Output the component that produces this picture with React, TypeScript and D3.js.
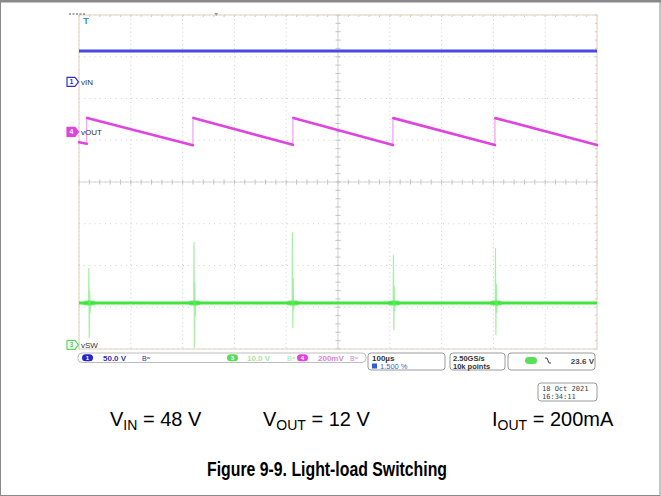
import React from "react";
import * as d3 from "d3";

// scope settings
const timeDomain = [0, 1000]; // µs, 100 µs/div
const divDomain = [-4, 4]; // vertical divisions
const hDivs = d3.range(0, 11);
const vDivs = d3.range(-4, 5);

// channel ground markers (divisions) and scale (units/div)
const groundDiv = { vin: 2.4, vout: 1.2, vsw: -3.9 };
const perDiv = { vin: 50, vout: 200, vsw: 10 };

const vinLevel = 37;

// vOUT ripple (mV relative to marker)
const voutJumps = [15, 220, 413, 606, 803];
const voutPeaks = [67, 67, 67, 66, 66];
const voutTroughs = [-57, -64, -62, -63, -63];
const voutStart = -50;
const voutEnd = -63;

// vSW (V)
const swLevel = 10;
const swSpikeTimes = [19, 222, 412, 607, 804];
const swTops = [18.4, 24.6, 26.9, 21.5, 23.2];
const swBottoms = [1.6, -0.7, 4.0, 3.5, 2.3];

const statusLabels = {
  ch1: "50.0 V",
  ch3: "10.0 V",
  ch4: "200mV",
  time: "100µs",
  delay: "1.500 %",
  rate: "2.50GS/s",
  points: "10k points",
  trig: "23.6 V",
  date: "18 Oct 2021",
  clock: "16:34:11",
};

const BLUE = "#4848e4";
const MAGENTA = "#e044e0";
const GREEN = "#3ee63e";
const GREEN_FAINT = "#a6efa6";

export default function App() {
  const x = d3.scaleLinear().domain(timeDomain).range([79, 597]);
  const y = d3.scaleLinear().domain(divDomain).range([349, 15]);
  const chY = (ch: "vin" | "vout" | "vsw", v: number) => y(groundDiv[ch] + v / perDiv[ch]);

  const line = d3.line<[number, number]>().x(d => x(d[0])).y(d => d[1]);

  // vout ramps
  const ramps: [number, number][][] = [];
  ramps.push([[0, chY("vout", voutStart)], [voutJumps[0], chY("vout", voutTroughs[0])]]);
  voutJumps.forEach((t, i) => {
    const tEnd = i + 1 < voutJumps.length ? voutJumps[i + 1] : timeDomain[1];
    const vEnd = i + 1 < voutTroughs.length ? voutTroughs[i + 1] : voutEnd;
    ramps.push([[t + 0.8, chY("vout", voutPeaks[i])], [tEnd, chY("vout", vEnd)]]);
  });

  // vsw spikes
  const swBase = chY("vsw", swLevel);
  const spikes = swSpikeTimes.map((t, i) => {
    const top = chY("vsw", swTops[i]);
    const bot = chY("vsw", swBottoms[i]);
    const pts: [number, number][] = [
      [t - 0.5, swBase],
      [t, top],
      [t + 0.8, bot],
      [t + 1.6, swBase + (top - swBase) * 0.35],
      [t + 2.4, swBase + (bot - swBase) * 0.3],
      [t + 3.2, swBase],
    ];
    return line(pts) as string;
  });

  const minorX = d3.range(0, 1000.01, 20);
  const minorY = d3.range(-4, 4.01, 0.2);

  const marker = (yy: number, fill: string, stroke: string, label: string, tc: string) => (
    <g>
      <path
        d={`M67,${yy - 4.5} L75,${yy - 4.5} L78.5,${yy} L75,${yy + 4.5} L67,${yy + 4.5} Z`}
        fill={fill}
        stroke={stroke}
        strokeWidth={1.2}
        strokeLinejoin="round"
      />
      <text x={71.5} y={yy + 2.5} fontSize={7} fontWeight="bold" fill={tc} textAnchor="middle">{label}</text>
    </g>
  );

  const badge = (x0: number, yc: number, fill: string, label: string) => (
    <g>
      <rect x={x0} y={yc - 3.5} width={11} height={7} rx={3.5} fill={fill} />
      <text x={x0 + 5.5} y={yc + 2.3} fontSize={6} fontWeight="bold" fill="#fff" textAnchor="middle">{label}</text>
    </g>
  );

  const font = "'Liberation Sans', Arial, sans-serif";

  return (
    <svg width={661} height={496} style={{ position: "absolute", left: 0, top: 0 }} fontFamily={font}>
      <rect x={0} y={0} width={661} height={496} fill="#fff" />
      {/* outer border */}
      <rect x={0.5} y={1.5} width={659.5} height={494} fill="none" stroke="#8a8a8a" strokeWidth={1} />
      <line x1={0} x2={661} y1={1.2} y2={1.2} stroke="#8a8a8a" strokeWidth={2.4} />

      {/* graticule */}
      {hDivs.map(i => (
        <line key={"v" + i} x1={x(i * 100)} x2={x(i * 100)} y1={y(4)} y2={y(-4)}
          stroke="#cfcfcf" strokeWidth={1} strokeDasharray="1,3.15" />
      ))}
      {vDivs.map(j => (
        <line key={"h" + j} x1={x(0)} x2={x(1000)} y1={y(j)} y2={y(j)}
          stroke="#cfcfcf" strokeWidth={1} strokeDasharray="1,4.2" />
      ))}
      <line x1={x(500)} x2={x(500)} y1={y(4)} y2={y(-4)} stroke="#d6d6d6" strokeWidth={1} />
      <line x1={x(0)} x2={x(1000)} y1={y(0)} y2={y(0)} stroke="#d6d6d6" strokeWidth={1} />
      {minorX.map(t => (
        <line key={"mx" + t} x1={x(t)} x2={x(t)} y1={y(0) - 2.5} y2={y(0) + 2.5} stroke="#c4c4c4" />
      ))}
      {minorY.map(d => (
        <line key={"my" + d} x1={x(500) - 2.5} x2={x(500) + 2.5} y1={y(d)} y2={y(d)} stroke="#c4c4c4" />
      ))}
      {minorY.map(d => (
        <line key={"ey" + d} x1={x(1000) - 2} x2={x(1000)} y1={y(d)} y2={y(d)} stroke="#d8c8b4" />
      ))}
      {minorX.map(t => (
        <line key={"ex" + t} x1={x(t)} x2={x(t)} y1={y(4)} y2={y(4) + 2} stroke="#d8c8b4" />
      ))}
      <rect x={x(0)} y={y(4)} width={x(1000) - x(0)} height={y(-4) - y(4)} fill="none" stroke="#e2d2be" strokeWidth={1} />

      {/* top-left icons */}
      <line x1={69} x2={85} y1={14} y2={14} stroke="#555" strokeWidth={1} strokeDasharray="2,1.5" />
      <text x={86} y={24} fontSize={9} fontWeight="bold" fill="#3a8ad8" textAnchor="middle">T</text>
      <path d={`M${x(265) - 2},13 L${x(265) + 2},13 L${x(265)},16 Z`} fill="#999" />

      {/* vIN */}
      <line x1={x(0)} x2={x(1000)} y1={chY("vin", vinLevel)} y2={chY("vin", vinLevel)} stroke={BLUE} strokeWidth={3} />

      {/* vOUT */}
      {voutJumps.map((t, i) => (
        <line key={"j" + i} x1={x(t)} x2={x(t)} y1={chY("vout", voutTroughs[i])} y2={chY("vout", voutPeaks[i])}
          stroke={MAGENTA} strokeWidth={1} opacity={0.6} />
      ))}
      {ramps.map((r, i) => (
        <path key={"r" + i} d={line(r) as string} fill="none" stroke={MAGENTA} strokeWidth={2.6} strokeLinecap="round" />
      ))}

      {/* vSW */}
      <line x1={x(0)} x2={x(1000)} y1={swBase} y2={swBase} stroke={GREEN} strokeWidth={3} />
      {spikes.map((d, i) => (
        <path key={"s" + i} d={d} fill="none" stroke={GREEN_FAINT} strokeWidth={1.2} />
      ))}
      {swSpikeTimes.map((t, i) => (
        <line key={"f" + i} x1={x(t) - 3} x2={x(t) + 4} y1={swBase} y2={swBase} stroke={GREEN} strokeWidth={5} strokeLinecap="round" opacity={0.7} />
      ))}

      {/* channel markers */}
      {marker(y(groundDiv.vin), "#fff", "#3030c8", "1", "#3030c8")}
      <text x={81} y={y(groundDiv.vin) + 3} fontSize={8} fill="#333">vIN</text>
      {marker(y(groundDiv.vout), MAGENTA, MAGENTA, "4", "#fff")}
      <text x={81} y={y(groundDiv.vout) + 3} fontSize={8} fill="#333">vOUT</text>
      {marker(y(groundDiv.vsw), "#fff", "#5ad85a", "3", "#5ad85a")}
      <text x={81} y={y(groundDiv.vsw) + 3} fontSize={8} fill="#333">vSW</text>

      {/* status bar */}
      <rect x={78} y={353} width={288} height={9.5} rx={4} fill="#fff" stroke="#bdbdbd" strokeWidth={1} />
      {badge(82, 357.7, "#2626c8", "1")}
      <text x={103} y={360.6} fontSize={8} fontWeight="bold" fill="#3434b4">{statusLabels.ch1}</text>
      <text x={142} y={360.6} fontSize={7} fill="#3434b4">Bʷ</text>
      {badge(227, 357.7, "#58dc58", "3")}
      <text x={247} y={360.6} fontSize={8} fontWeight="bold" fill="#a4e8a4">{statusLabels.ch3}</text>
      <text x={287} y={360.6} fontSize={7} fill="#a4e8a4">Bʷ</text>
      {badge(297, 357.7, "#e044e0", "4")}
      <text x={318} y={360.6} fontSize={8} fontWeight="bold" fill="#d884d8">{statusLabels.ch4}</text>
      <text x={350} y={360.6} fontSize={7} fill="#d884d8">Bʷ</text>

      <rect x={368} y={353} width={77} height={17} rx={3} fill="#fff" stroke="#9a9a9a" strokeWidth={1} />
      <text x={372} y={361} fontSize={8} fontWeight="bold" fill="#333">{statusLabels.time}</text>
      <rect x={372} y={363.5} width={5} height={5} fill="#2f5fd0" />
      <text x={380} y={368.8} fontSize={7.5} fill="#3a6ad0">{statusLabels.delay}</text>

      <rect x={450} y={353} width={55} height={17} rx={3} fill="#fff" stroke="#9a9a9a" strokeWidth={1} />
      <text x={453} y={361} fontSize={7.5} fontWeight="bold" fill="#333">{statusLabels.rate}</text>
      <text x={453} y={368.8} fontSize={7.5} fontWeight="bold" fill="#333">{statusLabels.points}</text>

      <rect x={508} y={353} width={87} height={17} rx={3} fill="#fff" stroke="#9a9a9a" strokeWidth={1} />
      <rect x={525} y={357} width={12} height={7} rx={3.5} fill="#58e058" />
      <path d="M545,358 L547,358 L549,363 L551,363" fill="none" stroke="#444" strokeWidth={1} />
      <text x={594} y={363.5} fontSize={8} fontWeight="bold" fill="#444" textAnchor="end">{statusLabels.trig}</text>

      {/* date box */}
      <rect x={538} y={383} width={59} height={18} rx={3} fill="#fff" stroke="#9a9a9a" strokeWidth={1} />
      <text x={542} y={391} fontSize={7} fill="#444" fontFamily="'DejaVu Sans Mono', monospace">{statusLabels.date}</text>
      <text x={542} y={399} fontSize={7} fill="#444" fontFamily="'DejaVu Sans Mono', monospace">{statusLabels.clock}</text>

      {/* conditions */}
      <text x={110} y={426} fontSize={20} fill="#000">
        V<tspan fontSize={14} dy={4}>IN</tspan><tspan dy={-4}> = 48 V</tspan>
      </text>
      <text x={263} y={426} fontSize={20} fill="#000">
        V<tspan fontSize={14} dy={4}>OUT</tspan><tspan dy={-4}> = 12 V</tspan>
      </text>
      <text x={492} y={426} fontSize={20} fill="#000">
        I<tspan fontSize={14} dy={4}>OUT</tspan><tspan dy={-4}> = 200mA</tspan>
      </text>

      <text x={207} y={476} fontSize={20} fontWeight="bold" fill="#000" textLength={240} lengthAdjust="spacingAndGlyphs">
        Figure 9-9. Light-load Switching
      </text>
    </svg>
  );
}
